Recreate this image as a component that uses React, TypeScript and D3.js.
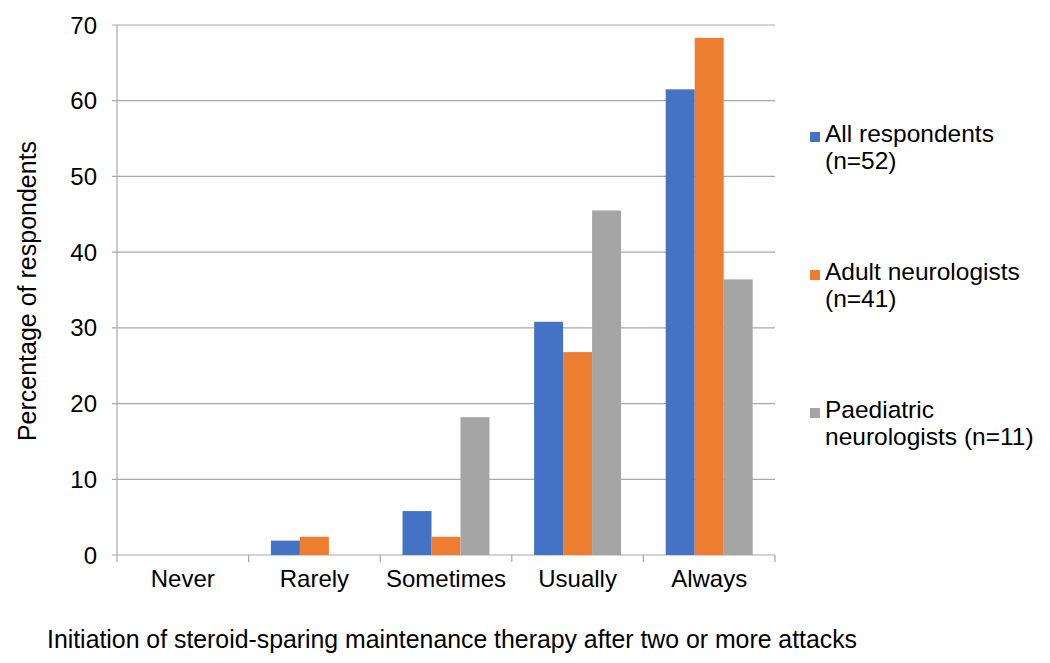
import * as d3 from "d3";
import React from "react";

const categories = ["Never", "Rarely", "Sometimes", "Usually", "Always"];
const seriesNames = ["All respondents (n=52)", "Adult neurologists (n=41)", "Paediatric neurologists (n=11)"];
const legendLines = [
  ["All respondents", "(n=52)"],
  ["Adult neurologists", "(n=41)"],
  ["Paediatric", "neurologists (n=11)"],
];
const allRespondents = [0, 1.9, 5.8, 30.8, 61.5];
const adultNeuro = [0, 2.4, 2.4, 26.8, 68.3];
const paedNeuro = [0, 0, 18.2, 45.5, 36.4];
const yTicks = [0, 10, 20, 30, 40, 50, 60, 70];
const colors = ["#4472C4", "#ED7D31", "#A5A5A5"];

const W = 1050;
const H = 663;
const left = 117;
const right = 775;
const top = 25;
const bottom = 555;
const font = "'Liberation Sans', Arial, Helvetica, sans-serif";
const gridColor = "#a8a8a8";

export default function App() {
  const series = [allRespondents, adultNeuro, paedNeuro];
  const x = d3.scaleBand<string>().domain(categories).range([left, right]).padding(0);
  const inner = d3
    .scaleBand<number>()
    .domain(d3.range(series.length))
    .range([0, x.bandwidth()])
    .paddingInner(0)
    .paddingOuter(0.77);
  const y = d3.scaleLinear().domain([0, 70]).range([bottom, top]);
  const legendY = [142, 280, 418];

  return (
    <svg
      width={W}
      height={H}
      style={{ position: "absolute", left: 0, top: 0, background: "#fff" }}
      fontFamily={font}
    >
      {/* gridlines + y ticks */}
      {yTicks.map((t) => (
        <g key={t}>
          <line x1={left - 5} x2={right} y1={y(t)} y2={y(t)} stroke={gridColor} strokeWidth={1.2} />
          <text x={97} y={y(t)} dy="0.36em" textAnchor="end" fontSize={24} fill="#000">
            {t}
          </text>
        </g>
      ))}
      {/* bars */}
      {series.map((vals, si) =>
        vals.map((v, ci) =>
          v > 0 ? (
            <rect
              key={`${si}-${ci}`}
              x={(x(categories[ci]) as number) + (inner(si) as number)}
              y={y(v)}
              width={inner.bandwidth()}
              height={y(0) - y(v)}
              fill={colors[si]}
            />
          ) : null
        )
      )}
      {/* y axis */}
      <line x1={left} x2={left} y1={top} y2={bottom} stroke={gridColor} strokeWidth={1.2} />
      {/* x axis ticks */}
      {categories.concat(["end"]).map((c, i) => {
        const xx = i < categories.length ? (x(c) as number) : right;
        return <line key={c} x1={xx} x2={xx} y1={bottom} y2={bottom + 7} stroke={gridColor} strokeWidth={1.2} />;
      })}
      {/* category labels */}
      {categories.map((c) => (
        <text
          key={c}
          x={(x(c) as number) + x.bandwidth() / 2}
          y={587}
          textAnchor="middle"
          fontSize={24}
          fill="#000"
        >
          {c}
        </text>
      ))}
      {/* axis titles */}
      <text
        transform={`translate(36, 291) rotate(-90)`}
        textAnchor="middle"
        fontSize={25}
        fill="#000"
      >
        Percentage of respondents
      </text>
      <text x={47} y={648} fontSize={25} fill="#000" textLength={810} lengthAdjust="spacingAndGlyphs">
        Initiation of steroid-sparing maintenance therapy after two or more attacks
      </text>
      {/* legend */}
      {seriesNames.map((name, i) => (
        <g key={name}>
          <rect x={810} y={legendY[i] - 10} width={10} height={10} fill={colors[i]} />
          <text x={825} y={legendY[i]} fontSize={24.5} fill="#000">
            {legendLines[i][0]}
          </text>
          <text x={825} y={legendY[i] + 27} fontSize={24.5} fill="#000">
            {legendLines[i][1]}
          </text>
        </g>
      ))}
    </svg>
  );
}
